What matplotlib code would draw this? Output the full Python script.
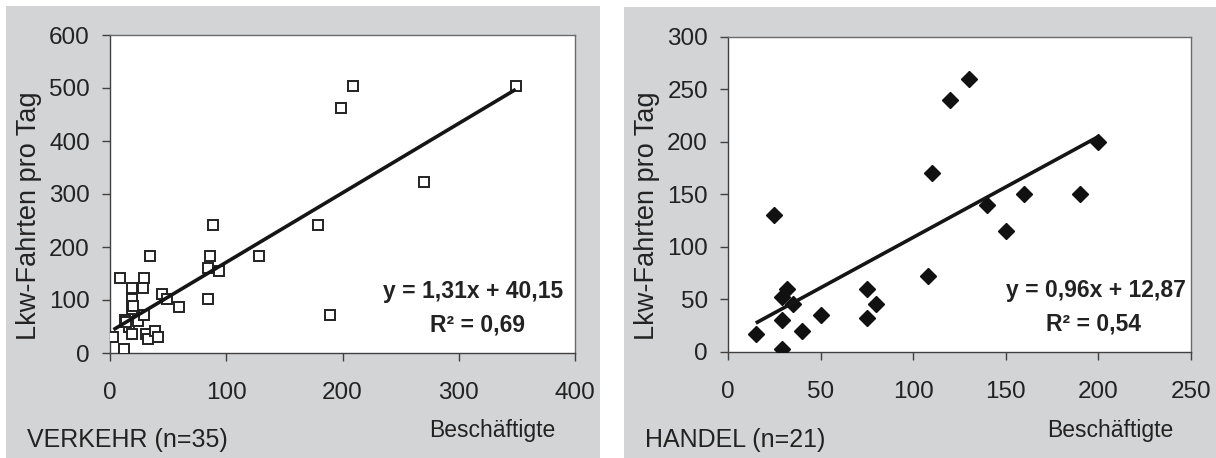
import numpy as np
import matplotlib
matplotlib.use('Agg')
import matplotlib.pyplot as plt
from matplotlib.patches import Rectangle

plt.rcParams['font.family'] = ['Liberation Sans', 'DejaVu Sans']

# === Data ===
verkehr_x = [3, 12, 9, 29, 34, 19, 28, 19, 19, 13, 16, 24, 29, 19, 31, 33, 39, 41,
             45, 49, 59, 84, 84, 86, 94, 89, 128, 179, 189, 199, 209, 270, 349, 20, 14]
verkehr_y = [30, 8, 142, 142, 183, 123, 123, 101, 83, 62, 50, 60, 71, 35, 35, 27, 41, 30,
             112, 101, 87, 101, 161, 183, 154, 242, 183, 242, 71, 463, 503, 323, 503, 88, 58]
verkehr_fit = (1.31, 40.15)

handel_x = [15, 29, 29, 25, 29, 32, 35, 40, 50, 75, 75, 80, 108, 110, 120, 130,
            140, 150, 160, 190, 200]
handel_y = [17, 3, 30, 130, 52, 60, 45, 20, 35, 60, 32, 45, 72, 170, 240, 260,
            140, 115, 150, 150, 200]
handel_fit = (0.96, 12.87)

panels = [
    dict(x=verkehr_x, y=verkehr_y, fit=verkehr_fit, r2='0,69', name='VERKEHR (n=35)',
         xlim=400, xstep=100, ylim=600, ystep=100, filled=False),
    dict(x=handel_x, y=handel_y, fit=handel_fit, r2='0,54', name='HANDEL (n=21)',
         xlim=250, xstep=50, ylim=300, ystep=50, filled=True),
]

W, H = 1216, 458
fig = plt.figure(figsize=(W / 100, H / 100), dpi=100)
fig.patch.set_facecolor('white')

gray = '#d3d4d6'
fig.patches.append(Rectangle((6 / W, 0), 594 / W, 452 / H, transform=fig.transFigure,
                             facecolor=gray, edgecolor='none', zorder=-10))
fig.patches.append(Rectangle((624 / W, 0), 592 / W, 451 / H, transform=fig.transFigure,
                             facecolor=gray, edgecolor='none', zorder=-10))

# axes boxes in pixels: left, top, right, bottom
boxes = [(110, 35, 575, 353), (728, 36.7, 1191, 351.7)]
name_x = [27, 645]
besch_x = [555, 1173]
ylab_x = [42.5, 660.5]
eq_x = [0.974, 0.989]

for p, (l, t, r, b), nx, bx, yx, ex in zip(panels, boxes, name_x, besch_x, ylab_x, eq_x):
    ax = fig.add_axes([l / W, 1 - b / H, (r - l) / W, (b - t) / H])
    ax.set_zorder(1)
    ax.set_facecolor('white')

    if p['filled']:
        ax.plot(p['x'], p['y'], linestyle='none', marker='D', ms=8.5,
                color='#111111', zorder=3)
    else:
        ax.plot(p['x'], p['y'], linestyle='none', marker='s', ms=7.5,
                markerfacecolor='white', markeredgecolor='#222222', mew=1.4, zorder=3)

    # trend line
    m, c = p['fit']
    xs = np.array([min(p['x']), max(p['x'])])
    ax.plot(xs, m * xs + c, color='#151515', lw=2.6, zorder=4, solid_capstyle='butt')

    ax.set_xlim(0, p['xlim'])
    ax.set_ylim(0, p['ylim'])
    ax.set_xticks(np.arange(0, p['xlim'] + 1, p['xstep']))
    ax.set_yticks(np.arange(0, p['ylim'] + 1, p['ystep']))

    for s in ['left', 'bottom']:
        ax.spines[s].set_color('#404040')
        ax.spines[s].set_linewidth(1.0)
    for s in ['top', 'right']:
        ax.spines[s].set_color('#6a6a6a')
        ax.spines[s].set_linewidth(1.0)

    ax.tick_params(axis='both', direction='out', length=6, width=1, color='#404040',
                   labelsize=17.5, labelcolor='#222222')
    ax.tick_params(axis='x', pad=15)
    ax.tick_params(axis='y', pad=8.4)

    ax.set_ylabel('Lkw-Fahrten pro Tag', fontsize=19.5, color='#222222')
    ax.yaxis.set_label_coords((yx - l) / (r - l), (b - 215.5) / (b - t))

    ax.text(ex, 0.193, f'y = {m:.2f}x + {c:.2f}'.replace('.', ','),
            transform=ax.transAxes, ha='right', va='center', fontsize=16.5,
            fontweight='bold', color='#222222')
    ax.text(0.79, 0.088, 'R² = ' + p['r2'], transform=ax.transAxes, ha='center',
            va='center', fontsize=16.5, fontweight='bold', color='#222222')

    fig.text(nx / W, 1 - 440 / H, p['name'], ha='left', va='center', fontsize=18,
             color='#222222')
    fig.text(bx / W, 1 - 430 / H, 'Beschäftigte', ha='right', va='center', fontsize=16.5,
             color='#222222')

fig.savefig('out.png', dpi=100)
